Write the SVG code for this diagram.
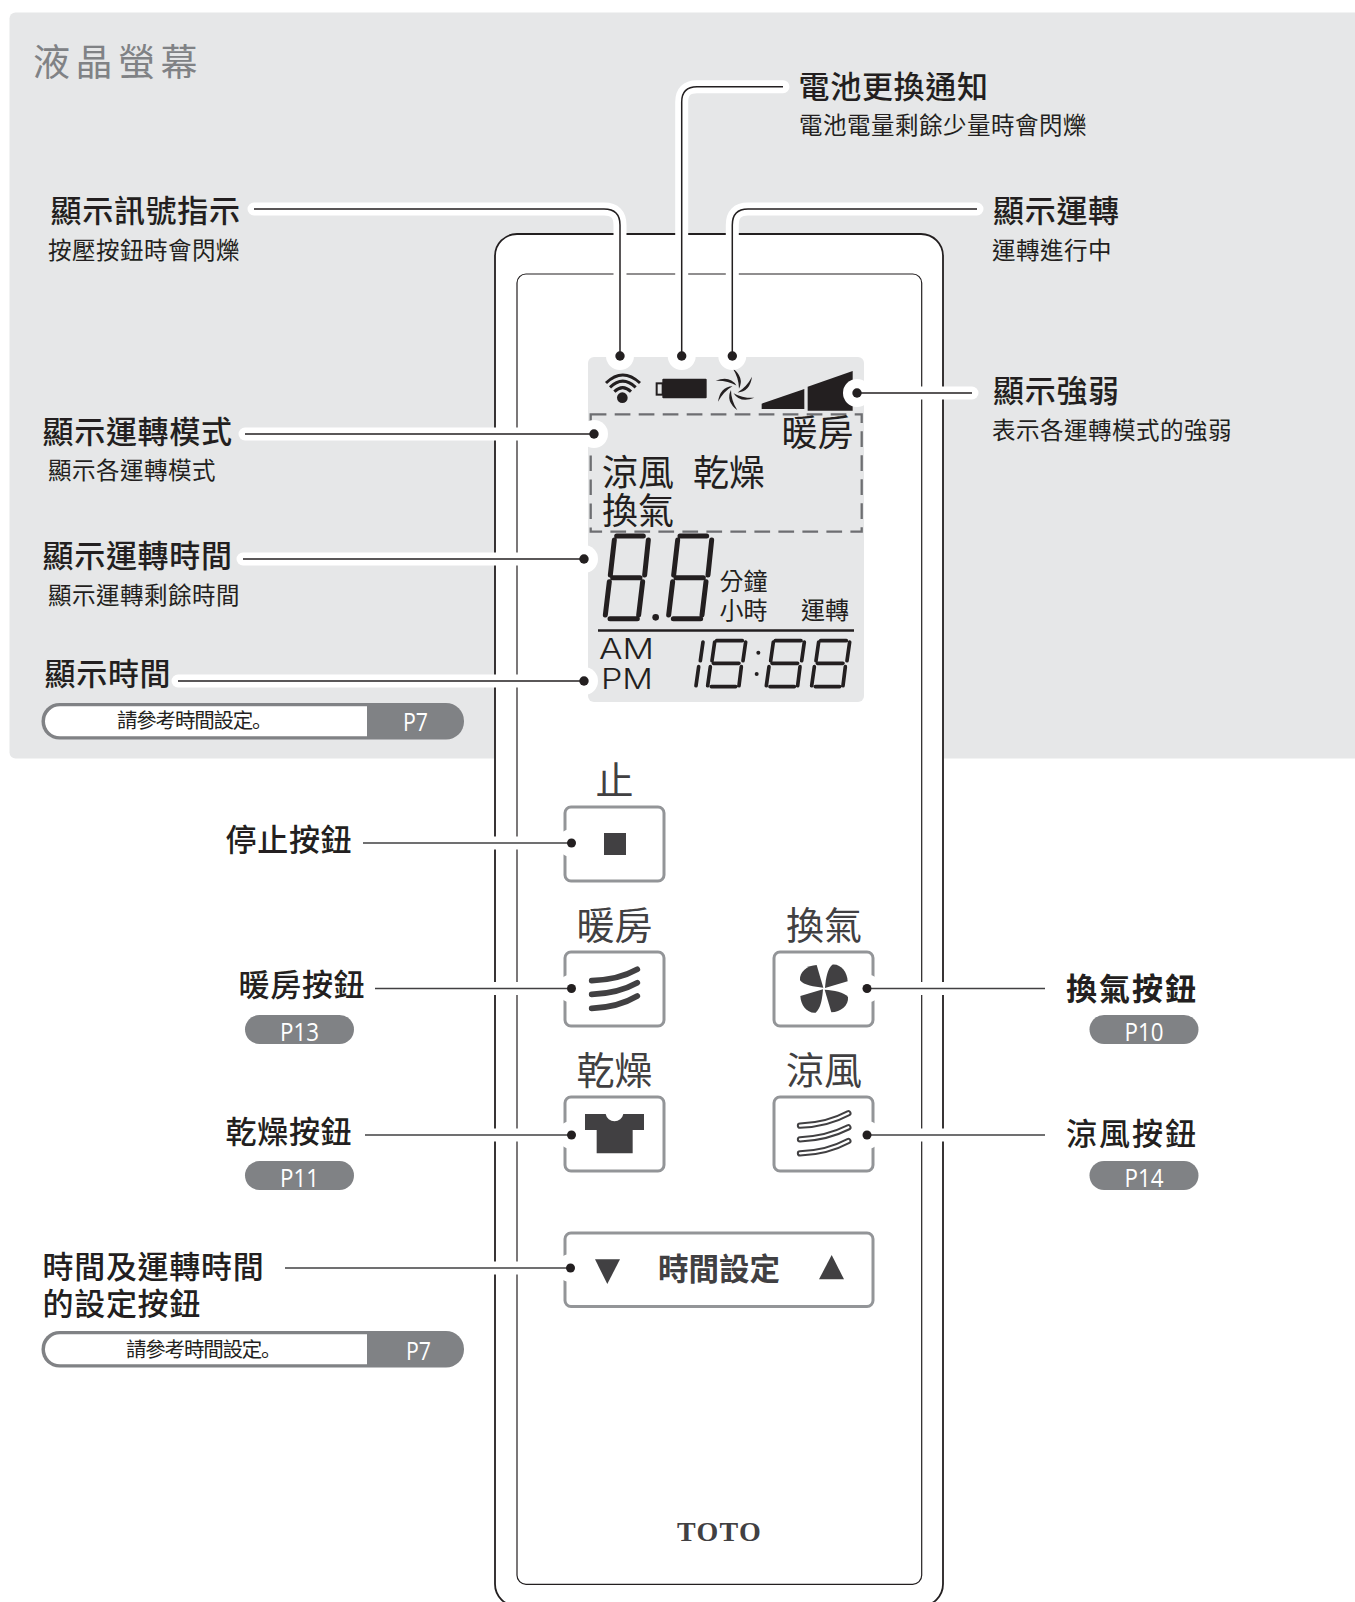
<svg xmlns="http://www.w3.org/2000/svg" xmlns:xlink="http://www.w3.org/1999/xlink" width="1355" height="1602" viewBox="0 0 1355 1602">
<style>
text{font-family:"Noto Sans CJK TC","Noto Sans CJK SC",sans-serif;fill:#231f20}
.h{font-size:31px;letter-spacing:.7px;font-weight:500}
.s{font-size:23.500px;letter-spacing:.5px}
.b{font-size:38px;fill:#414042;text-anchor:middle}
.l{font-size:36px;fill:#231f20}
.u{font-size:24px}
.n{font-family:"Noto Sans CJK SC","Noto Sans CJK TC",sans-serif;font-size:20.500px;letter-spacing:-1.200px;fill:#231f20}
.p{font-family:"Open Sans",sans-serif;font-size:26px;font-weight:500;fill:#fff;text-anchor:middle}
.am{font-family:"Inter","Liberation Sans",sans-serif;font-weight:300;font-size:28px}
.btn{fill:#fff;stroke:#939598;stroke-width:3}
.halo{fill:none;stroke:#fff;stroke-width:13;stroke-linecap:round}
.lead{fill:none;stroke:#231f20;stroke-width:1.500}
.leadg{fill:none;stroke:#414042;stroke-width:1.500}
.hd{fill:#fff}
.dot{fill:#231f20}
.seg{fill:none;stroke:#231f20;stroke-width:15;stroke-linecap:round}
.sg{fill:none;stroke:#231f20;stroke-width:11;stroke-linecap:round}
.ic{fill:#414042}
.wave{fill:none;stroke:#414042;stroke-width:17;stroke-linecap:round}
.wave2{fill:none;stroke:#fff;stroke-width:7;stroke-linecap:round}
.badge{fill:#808285}
</style>
<defs>
<g id="big8">
<path class="seg" d="M170 618H250M163 630L151 735M265 630L254 735M158 743H240M148 755L136 855M248 755L236 855M150 866H232"/>
</g>
<g id="small8">
<path class="sg" d="M378 62H455M372 66L364 122M465 66L457 122M368 130H445M359 140L351 197M452 140L445 197M362 200H435"/>
</g>
<path id="blade" d="M428 70Q464 98 447 131Q447 100 428 70Z" fill="#231f20"/>
<path id="leaf" class="ic" d="M-2 -3L-22 -71C-50 -70 -75 -50 -72 -25C-60 -10 -30 -5 -2 -3Z"/>
</defs>

<rect id="panel" x="9.500" y="12.500" width="1360" height="746" rx="6" fill="#e6e7e8"/>

<g id="remote">
<rect x="495" y="234" width="448" height="1372" rx="22" fill="#fff" stroke="#231f20" stroke-width="1.800"/>
<rect x="517" y="274" width="404.700" height="1310.300" rx="9" fill="#fff" stroke="#231f20" stroke-width="1.200"/>
<text x="719.500" y="1541" style="font-family:'Liberation Serif',serif;font-weight:700;font-size:28px;fill:#414042;letter-spacing:1.300px" text-anchor="middle">TOTO</text>
</g>

<g id="lcd">
<rect x="588" y="357" width="276" height="345" rx="6" fill="#e6e7e8"/>
<g id="lcd-icons" transform="translate(590 345) scale(.33333)">
<circle cx="97" cy="158" r="16" fill="#231f20"/>
<path d="M48 114Q98 66 150 114M60 127Q98 90 137 127M73 140Q98 116 123 140" fill="none" stroke="#231f20" stroke-width="9"/>
<rect x="217" y="101" width="133" height="59" rx="3" fill="#231f20"/>
<rect x="200" y="115" width="18" height="34" fill="none" stroke="#231f20" stroke-width="6"/>
<use xlink:href="#blade" transform="rotate(0 435 133)"/>
<use xlink:href="#blade" transform="rotate(60 435 133)"/>
<use xlink:href="#blade" transform="rotate(120 435 133)"/>
<use xlink:href="#blade" transform="rotate(180 435 133)"/>
<use xlink:href="#blade" transform="rotate(240 435 133)"/>
<use xlink:href="#blade" transform="rotate(300 435 133)"/>
<polygon points="515,192 515,176 643,132 643,192" fill="#231f20"/>
<polygon points="653,197 653,125 788,78 788,197" fill="#231f20"/>
</g>
<rect x="590.700" y="414.300" width="271" height="117.400" fill="none" stroke="#6d6e71" stroke-width="2.300" stroke-dasharray="15.700 8.300"/>
<text class="l" x="781.500" y="446">暖房</text>
<text class="l" x="602" y="486">涼風</text>
<text class="l" x="693" y="486">乾燥</text>
<text class="l" x="602" y="524">換氣</text>
<g transform="translate(560 330) scale(.33333)">
<use xlink:href="#big8"/>
<use xlink:href="#big8" x="190"/>
<circle cx="287" cy="862" r="10" fill="#231f20"/>
</g>
<text class="u" x="719.500" y="590">分鐘</text>
<text class="u" x="719.500" y="619">小時</text>
<text class="u" x="801" y="619">運轉</text>
<line x1="598" y1="630.500" x2="854" y2="630.500" stroke="#231f20" stroke-width="2.500"/>
<text class="am" x="599" y="658.500" textLength="55" lengthAdjust="spacingAndGlyphs">AM</text>
<text class="am" x="601" y="688.500" textLength="52" lengthAdjust="spacingAndGlyphs">PM</text>
<g transform="translate(590 620) scale(.33333)">
<path class="sg" d="M339 66L331 122M326 140L318 197"/>
<use xlink:href="#small8" x="2"/>
<circle cx="505" cy="98" r="6" fill="#231f20"/>
<circle cx="500" cy="162" r="6" fill="#231f20"/>
<use xlink:href="#small8" x="178"/>
<use xlink:href="#small8" x="314"/>
</g>
</g>

<g id="btn-stop">
<rect class="btn" x="565" y="807" width="99" height="74" rx="6"/>
<rect class="ic" x="604" y="833" width="22" height="22"/>
<text class="b" x="614.500" y="794">止</text>
</g>
<g id="btn-heat">
<rect class="btn" x="565" y="952" width="99" height="74" rx="6"/>
<g transform="translate(540 760) scale(.33333)"><path class="wave" d="M155 662Q235 660 292 628M155 703Q235 700 292 668M155 745Q235 742 292 708"/></g>
<text class="b" x="614.500" y="939">暖房</text>
</g>
<g id="btn-vent">
<rect class="btn" x="774" y="952" width="99" height="74" rx="6"/>
<g transform="translate(824 988.700) scale(.33333)">
<use xlink:href="#leaf"/>
<use xlink:href="#leaf" transform="rotate(90)"/>
<use xlink:href="#leaf" transform="rotate(180)"/>
<use xlink:href="#leaf" transform="rotate(270)"/>
</g>
<text class="b" x="824" y="939">換氣</text>
</g>
<g id="btn-dry">
<rect class="btn" x="565" y="1097" width="99" height="74" rx="6"/>
<g transform="translate(540 760) scale(.33333)"><path class="ic" d="M135 1062H197A27 27 0 0 0 250 1062H312V1110H278V1180H170V1110H135Z"/></g>
<text class="b" x="614.500" y="1084">乾燥</text>
</g>
<g id="btn-cool">
<rect class="btn" x="774" y="1097" width="99" height="74" rx="6"/>
<g transform="translate(540 760) scale(.33333)"><path class="wave" style="stroke-width:19" d="M780 1097Q860 1095 925 1060M780 1138Q860 1135 925 1102M780 1180Q860 1178 925 1143"/><path class="wave2" d="M780 1097Q860 1095 925 1060M780 1138Q860 1135 925 1102M780 1180Q860 1178 925 1143"/></g>
<text class="b" x="824" y="1084">涼風</text>
</g>
<g id="btn-time">
<rect class="btn" x="565" y="1233" width="308" height="73.500" rx="6"/>
<polygon class="ic" points="595,1259.300 620,1259.300 607.300,1284"/>
<polygon class="ic" points="819,1279.300 844,1279.300 831.700,1255"/>
<text x="719" y="1280" text-anchor="middle" style="font-size:30.500px;font-weight:700;fill:#414042">時間設定</text>
</g>

<g id="connectors">
<path class="halo" d="M254 209H604Q620 209 620 225V356"/><circle class="hd" cx="620" cy="356" r="14"/>
<path class="halo" d="M783 86.700H697Q681.700 86.700 681.700 102V356"/><circle class="hd" cx="681.700" cy="356" r="14"/>
<path class="halo" d="M977 209H748Q732.300 209 732.300 225V356"/><circle class="hd" cx="732.300" cy="356" r="14"/>
<path class="halo" d="M972 393H857"/><circle class="hd" cx="857" cy="393" r="14"/>
<path class="halo" d="M245 434H594"/><circle class="hd" cx="594" cy="434" r="14"/>
<path class="halo" d="M243 559H584"/><circle class="hd" cx="584" cy="559" r="14"/>
<path class="halo" d="M178 681H584"/><circle class="hd" cx="584" cy="681" r="14"/>
<path class="halo" d="M363 843H571"/><circle class="hd" cx="571.500" cy="843" r="14"/>
<path class="halo" d="M375 988.500H571"/><circle class="hd" cx="571.500" cy="988.500" r="14"/>
<path class="halo" d="M365 1135H571"/><circle class="hd" cx="571.500" cy="1135" r="14"/>
<path class="halo" d="M285 1268H571"/><circle class="hd" cx="570.500" cy="1268" r="14"/>
<path class="halo" d="M867 988.500H1045"/><circle class="hd" cx="867" cy="988.500" r="14"/>
<path class="halo" d="M867 1135H1045"/><circle class="hd" cx="867" cy="1135" r="14"/>
<path class="lead" d="M254 209H604Q620 209 620 225V356"/><circle class="dot" cx="620" cy="356" r="4.700"/>
<path class="lead" d="M783 86.700H697Q681.700 86.700 681.700 102V356"/><circle class="dot" cx="681.700" cy="356" r="4.700"/>
<path class="lead" d="M977 209H748Q732.300 209 732.300 225V356"/><circle class="dot" cx="732.300" cy="356" r="4.700"/>
<path class="lead" d="M972 393H857"/><circle class="dot" cx="857" cy="393" r="4.700"/>
<path class="lead" d="M245 434H594"/><circle class="dot" cx="594" cy="434" r="4.700"/>
<path class="lead" d="M243 559H584"/><circle class="dot" cx="584" cy="559" r="4.700"/>
<path class="lead" d="M178 681H584"/><circle class="dot" cx="584" cy="681" r="4.700"/>
<path class="leadg" d="M363 843H571"/><circle class="dot" cx="571.500" cy="843" r="4.500"/>
<path class="leadg" d="M375 988.500H571"/><circle class="dot" cx="571.500" cy="988.500" r="4.500"/>
<path class="leadg" d="M365 1135H571"/><circle class="dot" cx="571.500" cy="1135" r="4.500"/>
<path class="leadg" d="M285 1268H571"/><circle class="dot" cx="570.500" cy="1268" r="4.500"/>
<path class="leadg" d="M867 988.500H1045"/><circle class="dot" cx="867" cy="988.500" r="4.500"/>
<path class="leadg" d="M867 1135H1045"/><circle class="dot" cx="867" cy="1135" r="4.500"/>
</g>

<g id="title"><text x="33" y="76" style="font-size:37px;letter-spacing:5.500px;fill:#808285">液晶螢幕</text></g>
<g id="lbl-signal"><text class="h" x="50.500" y="222">顯示訊號指示</text><text class="s" x="48" y="258.500">按壓按鈕時會閃爍</text></g>
<g id="lbl-battery"><text class="h" x="798.500" y="97.500">電池更換通知</text><text class="s" x="799" y="134">電池電量剩餘少量時會閃爍</text></g>
<g id="lbl-run"><text class="h" x="993" y="222">顯示運轉</text><text class="s" x="992" y="258.500">運轉進行中</text></g>
<g id="lbl-strength"><text class="h" x="993" y="402">顯示強弱</text><text class="s" x="992" y="439">表示各運轉模式的強弱</text></g>
<g id="lbl-mode"><text class="h" x="42.500" y="443">顯示運轉模式</text><text class="s" x="48" y="479">顯示各運轉模式</text></g>
<g id="lbl-remain"><text class="h" x="42.500" y="567">顯示運轉時間</text><text class="s" x="48" y="604">顯示運轉剩餘時間</text></g>
<g id="lbl-clock"><text class="h" x="44.500" y="685">顯示時間</text>
<rect class="badge" x="41.500" y="703" width="422.500" height="36.500" rx="18"/><path d="M367 706.300H60A15 15 0 0 0 60 736.300H367Z" fill="#fff"/>
<text class="n" x="117" y="728">請參考時間設定。</text><text class="p" x="415.500" y="731" textLength="25" lengthAdjust="spacingAndGlyphs">P7</text></g>
<g id="lbl-stop"><text class="h" x="225.500" y="850.500">停止按鈕</text></g>
<g id="lbl-heat"><text class="h" x="238.500" y="995.500">暖房按鈕</text>
<rect class="badge" x="245" y="1015" width="109" height="29" rx="14.500"/><text class="p" x="299.500" y="1041" textLength="39" lengthAdjust="spacingAndGlyphs">P13</text></g>
<g id="lbl-dry"><text class="h" x="225.500" y="1142.500">乾燥按鈕</text>
<rect class="badge" x="245" y="1161" width="109" height="29" rx="14.500"/><text class="p" x="299.500" y="1187" textLength="39" lengthAdjust="spacingAndGlyphs">P11</text></g>
<g id="lbl-vent"><text class="h" style="font-weight:700;letter-spacing:2px" x="1066" y="999.500">換氣按鈕</text>
<rect class="badge" x="1089.500" y="1015" width="109" height="29" rx="14.500"/><text class="p" x="1144" y="1041" textLength="39" lengthAdjust="spacingAndGlyphs">P10</text></g>
<g id="lbl-cool"><text class="h" style="letter-spacing:2px" x="1066" y="1145">涼風按鈕</text>
<rect class="badge" x="1089.500" y="1161" width="109" height="29" rx="14.500"/><text class="p" x="1144" y="1187" textLength="39" lengthAdjust="spacingAndGlyphs">P14</text></g>
<g id="lbl-time"><text class="h" x="42.500" y="1277.500">時間及運轉時間</text><text class="h" x="42.500" y="1314.500">的設定按鈕</text>
<rect class="badge" x="41.500" y="1331" width="422.500" height="36.500" rx="18"/><path d="M367 1334.300H60A15 15 0 0 0 60 1364.300H367Z" fill="#fff"/>
<text class="n" x="126" y="1357">請參考時間設定。</text><text class="p" x="418.500" y="1360" textLength="25" lengthAdjust="spacingAndGlyphs">P7</text></g>
</svg>
